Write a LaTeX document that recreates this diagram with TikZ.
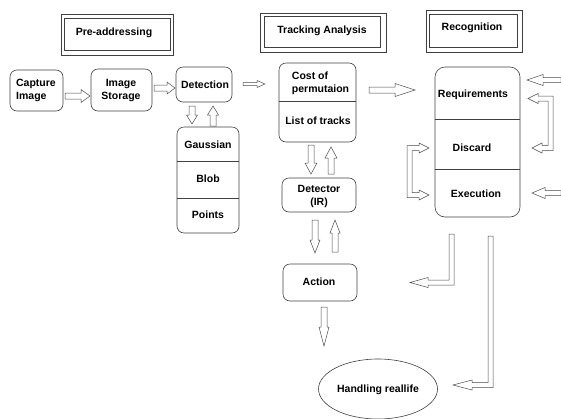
\documentclass[tikz,border=0pt]{standalone}
\usepackage{fontspec}
\setmainfont{Liberation Sans}
\usetikzlibrary{shapes.geometric}
\tikzset{
  box/.style={draw=black!75, line width=0.6pt, rounded corners=7pt, inner sep=0pt},
  ttl/.style={draw=black!75, line width=0.6pt, inner sep=0pt},
  ttlin/.style={draw=black!75, line width=0.6pt},
  txt/.style={inner sep=0pt, align=center},
  hol/.style={draw=black!70, fill=white, line width=0.5pt, line join=miter},
  dv/.style={draw=black!75, line width=0.6pt}
}
% hollow arrows: right/left {x1}{x2}{y}{headlen}{shafthalf}{headhalf}
\newcommand\arR[6]{\draw[hol] (#1,#3-#5) -- (#2-#4,#3-#5) -- (#2-#4,#3-#6) -- (#2,#3) -- (#2-#4,#3+#6) -- (#2-#4,#3+#5) -- (#1,#3+#5) -- cycle;}
\newcommand\arL[6]{\draw[hol] (#1,#3-#5) -- (#2+#4,#3-#5) -- (#2+#4,#3-#6) -- (#2,#3) -- (#2+#4,#3+#6) -- (#2+#4,#3+#5) -- (#1,#3+#5) -- cycle;}
% down/up {x}{y1}{y2}{headlen}{shafthalf}{headhalf}
\newcommand\arD[6]{\draw[hol] (#1-#5,#2) -- (#1-#5,#3-#4) -- (#1-#6,#3-#4) -- (#1,#3) -- (#1+#6,#3-#4) -- (#1+#5,#3-#4) -- (#1+#5,#2) -- cycle;}
\newcommand\arU[6]{\draw[hol] (#1-#5,#2) -- (#1-#5,#3+#4) -- (#1-#6,#3+#4) -- (#1,#3) -- (#1+#6,#3+#4) -- (#1+#5,#3+#4) -- (#1+#5,#2) -- cycle;}
\begin{document}
\begin{tikzpicture}[x=1pt,y=-1pt,font=\fontsize{10.5}{13}\selectfont\bfseries]
\useasboundingbox (0,0) rectangle (561,418);
% title boxes
\node[ttl, minimum width=112pt, minimum height=41pt] (preT) at (117,34.5) {};
\draw[ttlin] ([shift={(3.5,4.5)}]preT.north west) rectangle ([shift={(-3.5,-5.5)}]preT.south east);
\node[txt] (preTx) at (114,33) {Pre-addressing};
\node[ttl, minimum width=126pt, minimum height=39pt] (traT) at (323,32.5) {};
\draw[ttlin] ([shift={(5,4)}]traT.north west) rectangle ([shift={(-6,-5)}]traT.south east);
\node[txt] (traTx) at (322,30.5) {Tracking Analysis};
\node[ttl, minimum width=96pt, minimum height=42pt] (recT) at (474,31) {};
\draw[ttlin] ([shift={(4,5)}]recT.north west) rectangle ([shift={(-5,-5)}]recT.south east);
\node[txt] (recTx) at (472,27.5) {Recognition};
% pre-addressing
\node[box, minimum width=53pt, minimum height=41pt] (cap) at (36.5,90.5) {};
\node[inner sep=0pt, align=left] (capTx) at (36,90.5) {Capture\\Image};
\node[box, minimum width=61pt, minimum height=42pt] (sto) at (121.5,90) {};
\node[txt] (stoTx) at (121,90) {Image\\Storage};
\node[box, minimum width=56pt, minimum height=35pt] (det) at (204,84.5) {};
\node[txt] (detTx) at (205,84.5) {Detection};
\node[box, minimum width=62pt, minimum height=106pt] (gau) at (208,180) {};
\draw[dv] (gau.west |- 0,161) -- (gau.east |- 0,161);
\draw[dv] (gau.west |- 0,198) -- (gau.east |- 0,198);
\node[txt] (gauTx) at (208,145) {Gaussian};
\node[txt] (blbTx) at (208,178.5) {Blob};
\node[txt] (ptsTx) at (208,215) {Points};
% tracking
\node[box, minimum width=77pt, minimum height=79pt] (trk) at (317.5,102.5) {};
\draw[dv] (trk.west |- 0,101) -- (trk.east |- 0,101);
\node[inner sep=0pt, align=left] (costTx) at (320.5,83.5) {Cost of\\permutaion};
\node[txt] (listTx) at (318,120.5) {List of tracks};
\node[box, minimum width=74pt, minimum height=34pt] (dtr) at (319,195) {};
\node[txt] (dtrTx) at (319,196) {Detector\\(IR)};
\node[box, minimum width=74pt, minimum height=37pt] (act) at (320,282.5) {};
\node[txt] (actTx) at (319,281.5) {Action};
\node[draw=black!75, line width=0.6pt, ellipse, minimum width=119pt, minimum height=60pt, inner sep=0pt] (hnd) at (378,389) {};
\node[txt] (hndTx) at (378,389.5) {Handling reallife};
% recognition
\node[box, rounded corners=10pt, minimum width=85pt, minimum height=150pt] (rec) at (477.5,142) {};
\draw[dv] (rec.west |- 0,119) -- (rec.east |- 0,119);
\draw[dv] (rec.west |- 0,169) -- (rec.east |- 0,169);
\node[txt] (reqTx) at (473,94.5) {Requirements};
\node[txt] (disTx) at (472,147.5) {Discard};
\node[txt] (exeTx) at (476,193.5) {Execution};
% straight arrows
\arR{65}{90}{96}{9}{3}{6.5}
\arR{154}{175}{88}{8}{3}{6}
\arR{243}{265}{84}{8}{1.5}{3.5}
\arD{192}{106}{124}{9}{3}{5.5}
\arU{213}{126}{106}{9}{3}{5.5}
\arD{311}{145}{174}{11}{3}{6}
\arU{331}{174}{147}{11}{3}{6}
\arD{315}{220}{253}{13}{3}{5}
\arU{335}{252}{220}{13}{3}{5}
\arD{324}{307}{346}{19}{3}{5}
\arR{369}{415}{90}{20}{3}{6.5}
\arL{561}{527}{80}{16}{2.5}{5.5}
\arL{561}{532}{193}{13}{2.5}{5.5}
% bracket arrows
\draw[hol] (528,98.5) -- (538,93.5) -- (538,96) -- (553,96) -- (553,150.5) -- (542,150.5) -- (542,153) -- (532,148) -- (542,143) -- (542,145.5) -- (548,145.5) -- (548,101) -- (538,101) -- (538,103.5) -- cycle;
\draw[hol] (429,148) -- (419,143) -- (419,145.5) -- (407,145.5) -- (407,197.5) -- (419,197.5) -- (419,200) -- (429,195) -- (419,190) -- (419,192.5) -- (412,192.5) -- (412,150.5) -- (419,150.5) -- (419,153) -- cycle;
% L arrows
\draw[hol] (449,234) -- (454,234) -- (454,285) -- (428,285) -- (428,287.5) -- (410,282.5) -- (428,277.5) -- (428,280) -- (449,280) -- cycle;
\draw[hol] (488,236) -- (493,236) -- (493,387.5) -- (472,387.5) -- (472,390) -- (453,385) -- (472,380) -- (472,382.5) -- (488,382.5) -- cycle;
\end{tikzpicture}
\end{document}
